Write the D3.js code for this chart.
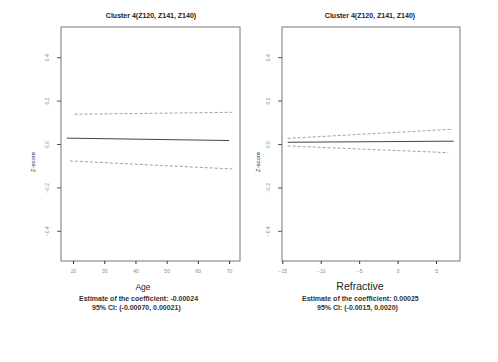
<!DOCTYPE html>
<html>
<head>
<meta charset="utf-8">
<script src="https://cdn.jsdelivr.net/npm/d3@7"></script>
<style>
  body { margin: 0; background: #fff; }
  text { font-family: "Liberation Sans", Arial, sans-serif; }
</style>
</head>
<body>
<script>
// values
const panelTitles = ['Cluster 4(Z120, Z141, Z140)', 'Cluster 4(Z120, Z141, Z140)'];
const xTitles = ['Age', 'Refractive'];
const yTicks = [-0.4, -0.2, 0.0, 0.2, 0.4];
const ageTicks = [20, 30, 40, 50, 60, 70];
const refTicks = [-15, -10, -5, 0, 5];

// line end points: [x0, x1] and [y0, y1]
const ageEstX = [18, 70],     ageEst = [0.027, 0.016];
const ageUpX = [20.5, 71],    ageUp = [0.137, 0.146];
const ageLoX = [19, 71],      ageLo = [-0.078, -0.115];
const refEstX = [-14.3, 7.3], refEst = [0.008, 0.013];
const refUpX = [-14.3, 7.2],  refUp = [0.026, 0.068];
const refLoX = [-14.3, 6.6],  refLo = [-0.009, -0.040];

const footers = [
  ['Estimate of the coefficient: -0.00024', '95% CI: (-0.00070, 0.00021)'],
  ['Estimate of the coefficient: 0.00025', '95% CI: (-0.0015, 0.0020)']
];

const [w, h] = [498, 362];
const svg = d3.select('body').append('svg')
  .attr('width', w)
  .attr('height', h);

const y = d3.scaleLinear().domain([-0.539, 0.539]).range([261, 27]);

function drawPanel(opt) {
  const x = d3.scaleLinear().domain(opt.domain).range(opt.range);
  const g = svg.append('g');

  // frame
  g.append('rect')
    .attr('x', opt.range[0]).attr('y', 27)
    .attr('width', opt.range[1] - opt.range[0]).attr('height', 234)
    .attr('fill', 'none').attr('stroke', '#777').attr('stroke-width', 1);

  // title
  g.append('text')
    .attr('x', opt.titleX).attr('y', 18)
    .attr('text-anchor', 'middle')
    .attr('font-size', '7px').attr('font-weight', 'bold')
    .attr('fill', '#222')
    .text(opt.title);

  // x axis
  const xAxis = d3.axisBottom(x).tickValues(opt.ticks).tickSize(3).tickPadding(5);
  const xa = g.append('g').attr('transform', 'translate(0,261)').call(xAxis);
  xa.select('.domain').remove();
  xa.selectAll('line').attr('stroke', '#333');
  xa.selectAll('text').attr('font-size', '5px').attr('fill', '#888');

  // y axis with rotated labels
  const yAxis = d3.axisLeft(y).tickValues(yTicks).tickSize(4)
    .tickFormat(d3.format('.1f'));
  const ya = g.append('g').attr('transform', `translate(${opt.range[0]},0)`).call(yAxis);
  ya.select('.domain').remove();
  ya.selectAll('line').attr('stroke', '#555');
  ya.selectAll('text')
    .attr('font-size', '5px').attr('fill', '#888')
    .attr('x', null).attr('dy', null)
    .attr('text-anchor', 'middle')
    .attr('transform', 'translate(-12,0) rotate(-90)');

  // y title
  g.append('text')
    .attr('transform', `translate(${opt.yTitleX},162) rotate(-90)`)
    .attr('text-anchor', 'middle')
    .attr('font-size', '6px').attr('fill', '#1a1a55')
    .text('Z-score');

  // lines
  const line = (xs, ys, color, dash, width) => {
    g.append('path')
      .datum(xs.map((v, i) => [v, ys[i]]))
      .attr('d', d3.line().x(d => x(d[0])).y(d => y(d[1])))
      .attr('fill', 'none')
      .attr('stroke', color)
      .attr('stroke-width', width)
      .attr('stroke-dasharray', dash);
  };
  line(opt.upX, opt.up, '#888', '3,2', 0.8);
  line(opt.loX, opt.lo, '#888', '3,2', 0.8);
  line(opt.estX, opt.est, '#444', null, 1);

  // x title
  g.append('text')
    .attr('x', opt.xTitleX).attr('y', 290)
    .attr('text-anchor', 'middle')
    .attr('font-size', opt.xTitleSize)
    .attr('font-family', opt.xTitleFont)
    .attr('fill', '#222')
    .text(opt.xTitle);

  // footer text
  opt.footer.forEach((t, i) => {
    g.append('text')
      .attr('x', opt.footX[i]).attr('y', 301 + i * 8.5)
      .attr('font-size', '7px').attr('font-weight', 'bold')
      .attr('fill', '#333')
      .text(t);
  });
}

drawPanel({
  domain: [16.15, 73.5], range: [61, 240], ticks: ageTicks,
  title: panelTitles[0], titleX: 151,
  xTitle: xTitles[0], xTitleX: 143, xTitleSize: '8.5px', xTitleFont: '"Liberation Sans", Arial, sans-serif',
  yTitleX: 35,
  estX: ageEstX, est: ageEst, upX: ageUpX, up: ageUp, loX: ageLoX, lo: ageLo,
  footer: footers[0], footX: [79, 92]
});

drawPanel({
  domain: [-15.04, 8.12], range: [282, 460], ticks: refTicks,
  title: panelTitles[1], titleX: 370,
  xTitle: xTitles[1], xTitleX: 360, xTitleSize: '10.5px', xTitleFont: '"Liberation Serif", serif',
  yTitleX: 260,
  estX: refEstX, est: refEst, upX: refUpX, up: refUp, loX: refLoX, lo: refLo,
  footer: footers[1], footX: [302, 317]
});
</script>
</body>
</html>
